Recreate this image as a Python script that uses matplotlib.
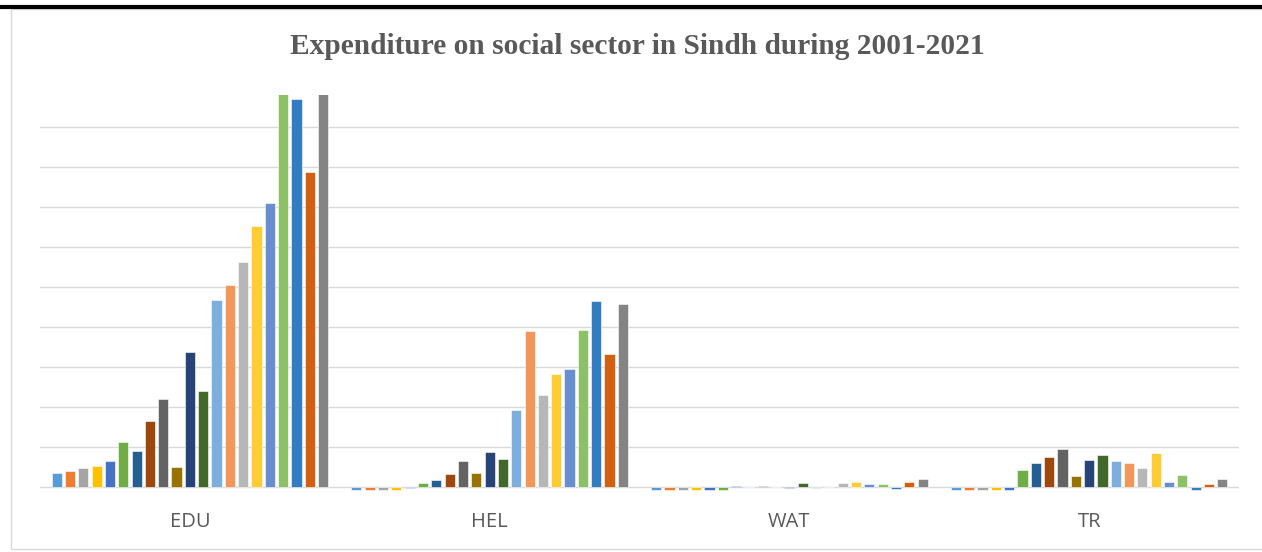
import numpy as np
import matplotlib.pyplot as plt
from matplotlib.lines import Line2D
from matplotlib.patches import Rectangle

# Sectors and years
categories = ['EDU', 'HEL', 'WAT', 'TR']
years = list(range(2001, 2022))

# Expenditure by year, one value per sector (EDU, HEL, WAT, TR)
spend = {
    2001: [0.34, -0.07, -0.07, -0.07],
    2002: [0.40, -0.07, -0.07, -0.07],
    2003: [0.47, -0.07, -0.07, -0.07],
    2004: [0.53, -0.07, -0.07, -0.07],
    2005: [0.65, -0.03, -0.07, -0.07],
    2006: [1.12, 0.10, -0.07, 0.43],
    2007: [0.91, 0.17, 0.03, 0.60],
    2008: [1.64, 0.33, 0.00, 0.74],
    2009: [2.19, 0.64, 0.02, 0.95],
    2010: [0.49, 0.35, 0.00, 0.27],
    2011: [3.37, 0.88, -0.03, 0.67],
    2012: [2.39, 0.71, 0.10, 0.80],
    2013: [4.68, 1.92, -0.02, 0.64],
    2014: [5.06, 3.89, 0.00, 0.59],
    2015: [5.62, 2.30, 0.11, 0.48],
    2016: [6.52, 2.82, 0.13, 0.86],
    2017: [7.09, 2.95, 0.07, 0.13],
    2018: [10.3, 3.93, 0.08, 0.30],
    2019: [9.69, 4.66, -0.05, -0.08],
    2020: [7.87, 3.32, 0.13, 0.07],
    2021: [10.5, 4.57, 0.19, 0.19],
}

# Office palette, then its darker and lighter variants
colors = ['#5B9BD5', '#ED7D31', '#A5A5A5', '#FFC000', '#4472C4', '#70AD47',
          '#255E91', '#9E480E', '#636363', '#997300', '#264478', '#43682B',
          '#7CAFDD', '#F1975A', '#B7B7B7', '#FFCD33', '#698ED0', '#8CC168',
          '#327DC2', '#D26012', '#848484']

fig = plt.figure(figsize=(12.62, 5.52), dpi=100)
ax = fig.add_axes([40 / 1262, 1 - 491 / 552, 1199 / 1262, 396 / 552])

x = np.arange(len(categories))
slot = 0.9333 / len(years)
width = slot * 0.76
for i, yr in enumerate(years):
    offs = (i - (len(years) - 1) / 2) * slot
    ax.bar(x + offs, spend[yr], width, color=colors[i],
           edgecolor='white', linewidth=0.4, zorder=3, label=str(yr))

ax.set_xlim(-0.5, 3.5)
ax.set_ylim(-0.1, 9.8)
ax.set_yticks(np.arange(0, 10, 1))
ax.yaxis.grid(True, color='#D9D9D9', linewidth=1.0)
ax.set_axisbelow(True)
ax.tick_params(axis='y', left=False, labelleft=False)
ax.set_xticks(x)
ax.set_xticklabels(categories, fontsize=14.5, color='#595959',
                   family='Open Sans')
ax.tick_params(axis='x', length=0, pad=15)
for s in ax.spines.values():
    s.set_visible(False)

fig.text(637 / 1262, 1 - 47 / 552,
         'Expenditure on social sector in Sindh during 2001-2021',
         ha='center', va='center', fontsize=21.2, fontweight='bold',
         color='#595959', family='Liberation Serif')

# Caption line from the surrounding document, mostly above the frame
fig.text(3 / 1262, 1 + 6.5 / 552,
         'Figure 3: Expenditure on social sector in Sindh during 2001-2021',
         ha='left', va='baseline', fontsize=24, fontweight='bold',
         color='black', family='Liberation Serif')
fig.add_artist(Line2D([0, 1], [1 - 6.8 / 552] * 2, color='black',
                      linewidth=3, transform=fig.transFigure))

# Chart frame
fig.add_artist(Rectangle((11 / 1262, 1 - 549 / 552), 1.1, 540 / 552,
                         transform=fig.transFigure, fill=False,
                         edgecolor='#D9D9D9', linewidth=1.0))

fig.savefig('out.png', dpi=100)
